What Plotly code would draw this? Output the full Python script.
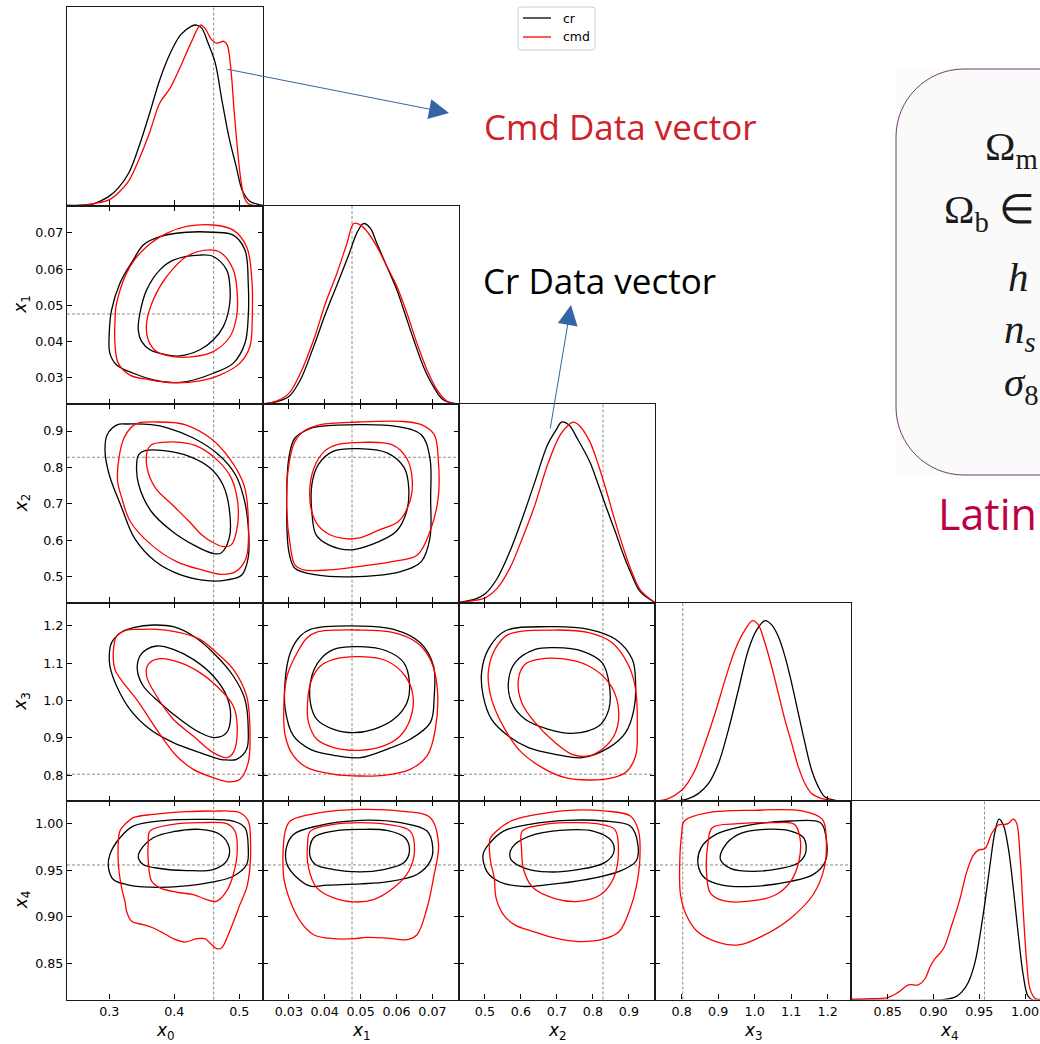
import plotly.graph_objects as go

W, H = 1040, 1044

# ---------------------------------------------------------------- parameters
TRUTHS = [0.4606, 0.0476, 0.828, 0.803, 0.9557]
TICK_VALUES = [
    [0.3, 0.4, 0.5],
    [0.03, 0.04, 0.05, 0.06, 0.07],
    [0.5, 0.6, 0.7, 0.8, 0.9],
    [0.8, 0.9, 1.0, 1.1, 1.2],
    [0.85, 0.90, 0.95, 1.00],
]
TICK_FORMATS = [".1f", ".2f", ".1f", ".1f", ".2f"]
X_RANGES = [(0.235, 0.5365), (0.0228, 0.0774), (0.428, 0.9725), (0.727, 1.2638), (0.8099, 1.0240)]
Y_RANGES = [None, (0.0227, 0.0776), (0.430, 0.974), (0.7313, 1.262), (0.8112, 1.0244)]
SERIES = ["cr", "cmd"]

# ---------------------------------------------------------------- 1D marginals (peak normalised to 1)
CR_1D_X0 = [0.235, 0.255, 0.277, 0.287, 0.300, 0.314, 0.330, 0.346, 0.362, 0.378, 0.394, 0.410,
            0.426, 0.434, 0.442, 0.452, 0.463, 0.473, 0.484, 0.495, 0.505, 0.516, 0.529, 0.5365]
CR_1D_P0 = [0, 0.002, 0.011, 0.026, 0.052, 0.098, 0.180, 0.330, 0.510, 0.700, 0.845, 0.947,
            0.993, 1.0, 0.984, 0.900, 0.790, 0.590, 0.380, 0.220, 0.080, 0.024, 0.006, 0.0]
CMD_1D_X0 = [0.235, 0.2553, 0.2766, 0.3005, 0.3165, 0.3298, 0.3457, 0.3617, 0.3777, 0.3936, 0.4096,
             0.4255, 0.4404, 0.4468, 0.4574, 0.4654, 0.4761, 0.4814, 0.4867, 0.4920, 0.4973, 0.5027,
             0.5080, 0.5133, 0.5213, 0.5365]
CMD_1D_P0 = [0, 0.0, 0.011, 0.033, 0.079, 0.135, 0.255, 0.40, 0.568, 0.65, 0.77, 0.90, 1.0, 0.984,
             0.919, 0.90, 0.91, 0.89, 0.77, 0.53, 0.31, 0.135, 0.042, 0.011, 0.0, 0.0]

CR_1D_X1 = [0.0228, 0.0267, 0.030, 0.0332, 0.0369, 0.0402, 0.0434, 0.0467, 0.049, 0.0508, 0.0527,
            0.0545, 0.0573, 0.0601, 0.062, 0.0648, 0.0675, 0.0703, 0.0731, 0.0774]
CR_1D_P1 = [0, 0.013, 0.041, 0.133, 0.318, 0.500, 0.660, 0.827, 0.950, 1.0, 0.974, 0.891, 0.762,
            0.632, 0.521, 0.355, 0.207, 0.096, 0.022, 0]
CMD_1D_X1 = [0.0228, 0.0267, 0.030, 0.0332, 0.0369, 0.0402, 0.0434, 0.0462, 0.0481, 0.0499, 0.0518,
             0.0545, 0.0573, 0.0601, 0.0629, 0.0657, 0.0685, 0.0713, 0.074, 0.0774]
CMD_1D_P1 = [0, 0.017, 0.059, 0.170, 0.355, 0.558, 0.725, 0.891, 1.0, 0.993, 0.956, 0.873, 0.762,
             0.651, 0.503, 0.336, 0.189, 0.078, 0.017, 0]

CR_1D_X2 = [0.428, 0.476, 0.5015, 0.534, 0.569, 0.604, 0.639, 0.674, 0.698, 0.713, 0.733, 0.756,
            0.791, 0.815, 0.838, 0.862, 0.885, 0.908, 0.932, 0.9725]
CR_1D_P2 = [0, 0.022, 0.05, 0.133, 0.281, 0.467, 0.67, 0.874, 0.957, 1.0, 0.985, 0.911, 0.781,
            0.652, 0.522, 0.393, 0.263, 0.152, 0.059, 0]
CMD_1D_X2 = [0.428, 0.476, 0.5015, 0.534, 0.569, 0.604, 0.639, 0.674, 0.7095, 0.733, 0.745, 0.762,
             0.791, 0.815, 0.838, 0.862, 0.885, 0.908, 0.932, 0.9725]
CMD_1D_P2 = [0, 0.013, 0.026, 0.078, 0.189, 0.356, 0.541, 0.763, 0.93, 0.985, 1.0, 0.981, 0.893,
             0.763, 0.615, 0.448, 0.30, 0.17, 0.069, 0]

CR_1D_X3 = [0.727, 0.8, 0.8183, 0.8457, 0.8731, 0.9005, 0.9279, 0.9553, 0.9826, 1.0055, 1.0283,
            1.0466, 1.0648, 1.0831, 1.1014, 1.1196, 1.1379, 1.1562, 1.1744, 1.1927, 1.2201, 1.2638]
CR_1D_P3 = [0, 0.004, 0.013, 0.041, 0.096, 0.207, 0.393, 0.615, 0.837, 0.948, 1.0, 0.976, 0.911,
            0.8, 0.652, 0.485, 0.319, 0.17, 0.078, 0.022, 0.004, 0]
CMD_1D_X3 = [0.727, 0.7635, 0.8, 0.8183, 0.8365, 0.8639, 0.8913, 0.9187, 0.9461, 0.9735, 0.9945,
             1.01, 1.0283, 1.0466, 1.0648, 1.0831, 1.1014, 1.1196, 1.1379, 1.1562, 1.1836, 1.211,
             1.2638]
CMD_1D_P3 = [0, 0.013, 0.059, 0.106, 0.17, 0.319, 0.485, 0.67, 0.837, 0.948, 1.0, 0.976, 0.874,
             0.744, 0.596, 0.448, 0.319, 0.189, 0.096, 0.041, 0.013, 0.004, 0]

CR_1D_X4 = [0.8099, 0.9126, 0.9235, 0.9308, 0.9381, 0.9454, 0.9508, 0.9563, 0.9617, 0.9672, 0.9716,
            0.9763, 0.9818, 0.9872, 0.9927, 0.9981, 1.0029, 1.0072, 1.024]
CR_1D_P4 = [0, 0, 0.013, 0.041, 0.096, 0.207, 0.356, 0.541, 0.744, 0.93, 1.0, 0.967, 0.837, 0.615,
            0.356, 0.133, 0.022, 0, 0]
CMD_1D_X4 = [0.8099, 0.8252, 0.85, 0.8617, 0.8726, 0.8835, 0.8908, 0.8962, 0.9017, 0.9108, 0.9199,
             0.929, 0.9363, 0.9436, 0.949, 0.9563, 0.9636, 0.9708, 0.9781, 0.9818, 0.9872, 0.9909,
             0.9945, 0.9981, 1.0018, 1.0054, 1.0109, 1.0163, 1.024]
CMD_1D_P4 = [0, 0.004, 0.011, 0.041, 0.081, 0.081, 0.115, 0.18, 0.226, 0.281, 0.411, 0.559, 0.707,
             0.8, 0.828, 0.837, 0.92, 0.967, 0.97, 0.976, 1.0, 0.976, 0.8, 0.485, 0.207, 0.059,
             0.007, 0, 0]

# ---------------------------------------------------------------- 2D credible contours (x param, y param)
CR_01_OUT = [(0.3779, 0.0690), (0.4190, 0.0702), (0.4600, 0.0702), (0.4908, 0.0694), (0.5087, 0.0653),
             (0.5138, 0.0561), (0.5138, 0.0469), (0.5087, 0.0395), (0.4908, 0.0340), (0.4600, 0.0312),
             (0.4190, 0.0289), (0.3985, 0.0286), (0.3677, 0.0294), (0.3369, 0.0312), (0.3113, 0.0335),
             (0.3010, 0.0367), (0.3000, 0.0423), (0.3036, 0.0487), (0.3164, 0.0561), (0.3369, 0.0625),
             (0.3523, 0.0667)]
CMD_01_OUT = [(0.3882, 0.0699), (0.4190, 0.0718), (0.4600, 0.0722), (0.4908, 0.0708), (0.5113, 0.0662),
              (0.5190, 0.0579), (0.5200, 0.0469), (0.5164, 0.0386), (0.5010, 0.0340), (0.4703, 0.0307),
              (0.4395, 0.0291), (0.3985, 0.0286), (0.3626, 0.0294), (0.3318, 0.0307), (0.3138, 0.0340),
              (0.3087, 0.0395), (0.3087, 0.0450), (0.3113, 0.0506), (0.3318, 0.0607), (0.3574, 0.0662)]
CR_01_IN = [(0.3985, 0.0625), (0.4395, 0.0639), (0.4600, 0.0635), (0.4805, 0.0598), (0.4856, 0.0552),
            (0.4846, 0.0496), (0.4754, 0.0441), (0.4600, 0.0404), (0.4395, 0.0377), (0.4087, 0.0360),
            (0.3882, 0.0363), (0.3626, 0.0377), (0.3497, 0.0400), (0.3446, 0.0432), (0.3472, 0.0478),
            (0.3574, 0.0542), (0.3779, 0.0598)]
CMD_01_IN = [(0.4190, 0.0635), (0.4549, 0.0653), (0.4728, 0.0644), (0.4908, 0.0598), (0.4969, 0.0533),
             (0.4959, 0.0469), (0.4856, 0.0413), (0.4600, 0.0372), (0.4292, 0.0358), (0.3985, 0.0358),
             (0.3728, 0.0372), (0.3600, 0.0404), (0.3574, 0.0450), (0.3677, 0.0515), (0.3882, 0.0579)]

CR_02_OUT = [(0.3259, 0.9192), (0.3647, 0.9174), (0.3906, 0.9082), (0.4294, 0.8808), (0.4683, 0.8350),
             (0.4942, 0.7801), (0.5071, 0.7160), (0.5136, 0.6428), (0.5136, 0.5513), (0.5039, 0.5055),
             (0.4812, 0.4918), (0.4553, 0.4890), (0.4100, 0.5055), (0.3712, 0.5421), (0.3388, 0.6062),
             (0.3194, 0.6886), (0.3000, 0.7801), (0.2935, 0.8442), (0.2968, 0.8899), (0.3129, 0.9174)]
CMD_02_OUT = [(0.3453, 0.9220), (0.4036, 0.9220), (0.4165, 0.9174), (0.4553, 0.8808), (0.4845, 0.8259),
              (0.5071, 0.7526), (0.5136, 0.6703), (0.5104, 0.5513), (0.4942, 0.5146), (0.4715, 0.5073),
              (0.4424, 0.5192), (0.4036, 0.5421), (0.3647, 0.5879), (0.3324, 0.6520), (0.3194, 0.7160),
              (0.3129, 0.7618), (0.3149, 0.8259), (0.3227, 0.8808), (0.3356, 0.9128)]
CR_02_IN = [(0.3550, 0.8460), (0.3841, 0.8460), (0.4230, 0.8304), (0.4553, 0.7984), (0.4748, 0.7526),
            (0.4845, 0.6886), (0.4845, 0.6062), (0.4715, 0.5650), (0.4586, 0.5650), (0.4294, 0.5879),
            (0.3971, 0.6245), (0.3647, 0.6794), (0.3453, 0.7526), (0.3421, 0.8076), (0.3453, 0.8350)]
CMD_02_IN = [(0.3809, 0.8689), (0.4100, 0.8689), (0.4359, 0.8579), (0.4683, 0.8167), (0.4877, 0.7709),
             (0.4974, 0.7069), (0.4974, 0.6428), (0.4877, 0.5879), (0.4748, 0.5833), (0.4618, 0.5924),
             (0.4424, 0.6153), (0.4230, 0.6520), (0.3971, 0.6977), (0.3712, 0.7435), (0.3583, 0.7984),
             (0.3583, 0.8442), (0.3647, 0.8625)]

CR_12_OUT = [(0.0388, 0.9128), (0.0493, 0.9174), (0.0599, 0.9128), (0.0669, 0.8899), (0.0693, 0.8259),
             (0.0695, 0.7160), (0.0693, 0.6062), (0.0669, 0.5421), (0.0611, 0.5146), (0.0493, 0.5009),
             (0.0376, 0.5055), (0.0317, 0.5238), (0.0300, 0.5696), (0.0294, 0.7160), (0.0300, 0.8259),
             (0.0317, 0.8808), (0.0364, 0.9082)]
CMD_12_OUT = [(0.0388, 0.9174), (0.0493, 0.9247), (0.0611, 0.9265), (0.0669, 0.9174), (0.0705, 0.8899),
              (0.0716, 0.8259), (0.0716, 0.7160), (0.0693, 0.6245), (0.0658, 0.5604), (0.0587, 0.5421),
              (0.0493, 0.5284), (0.0411, 0.5192), (0.0341, 0.5192), (0.0317, 0.5330), (0.0305, 0.5787),
              (0.0294, 0.6886), (0.0300, 0.8076), (0.0317, 0.8716), (0.0341, 0.8991)]
CR_12_IN = [(0.0423, 0.8442), (0.0493, 0.8515), (0.0575, 0.8396), (0.0622, 0.7984), (0.0634, 0.7435),
            (0.0628, 0.6794), (0.0599, 0.6245), (0.0528, 0.5879), (0.0470, 0.5742), (0.0411, 0.5879),
            (0.0376, 0.6153), (0.0364, 0.6794), (0.0364, 0.7526), (0.0382, 0.8076)]
CMD_12_IN = [(0.0435, 0.8625), (0.0505, 0.8689), (0.0587, 0.8625), (0.0628, 0.8259), (0.0644, 0.7618),
             (0.0634, 0.6977), (0.0605, 0.6520), (0.0552, 0.6291), (0.0493, 0.6062), (0.0446, 0.6062),
             (0.0399, 0.6245), (0.0370, 0.6611), (0.0358, 0.7252), (0.0370, 0.7984), (0.0399, 0.8442)]

CR_03_OUT = [(0.3677, 1.2018), (0.3985, 1.1973), (0.4292, 1.1724), (0.4600, 1.1278), (0.4908, 1.0655),
             (0.5087, 1.0031), (0.5138, 0.9229), (0.5113, 0.8695), (0.4959, 0.8428), (0.4805, 0.8410),
             (0.4703, 0.8428), (0.4395, 0.8606), (0.3985, 0.8873), (0.3626, 0.9229), (0.3318, 0.9764),
             (0.3113, 1.0388), (0.3010, 1.0922), (0.3000, 1.1189), (0.3036, 1.1546), (0.3215, 1.1857),
             (0.3369, 1.1947)]
CMD_03_OUT = [(0.3472, 1.1902), (0.3728, 1.1902), (0.4087, 1.1813), (0.4395, 1.1635), (0.4651, 1.1278),
              (0.4908, 1.0833), (0.5113, 1.0120), (0.5164, 0.9229), (0.5138, 0.8339), (0.5010, 0.7893),
              (0.4856, 0.7822), (0.4600, 0.7938), (0.4292, 0.8160), (0.4036, 0.8517), (0.3728, 0.9229),
              (0.3421, 1.0031), (0.3215, 1.0477), (0.3087, 1.0833), (0.3062, 1.1278), (0.3113, 1.1724),
              (0.3267, 1.1884)]
CR_03_IN = [(0.3728, 1.1457), (0.3985, 1.1367), (0.4292, 1.1100), (0.4600, 1.0655), (0.4805, 1.0120),
            (0.4867, 0.9586), (0.4805, 0.9140), (0.4626, 0.9007), (0.4395, 0.9140), (0.4087, 0.9497),
            (0.3779, 0.9942), (0.3523, 1.0388), (0.3431, 1.0833), (0.3472, 1.1189), (0.3574, 1.1367)]
CMD_03_IN = [(0.3779, 1.1118), (0.4087, 1.1011), (0.4395, 1.0744), (0.4651, 1.0388), (0.4908, 0.9853),
             (0.4969, 0.9229), (0.4908, 0.8606), (0.4805, 0.8472), (0.4600, 0.8606), (0.4292, 0.9051),
             (0.3985, 0.9497), (0.3728, 1.0120), (0.3574, 1.0655), (0.3600, 1.0967)]

CR_13_OUT = [(0.0360, 1.1902), (0.0499, 1.1991), (0.0592, 1.1902), (0.0666, 1.1546), (0.0703, 1.0922),
             (0.0705, 1.0120), (0.0694, 0.9408), (0.0638, 0.8962), (0.0573, 0.8695), (0.0499, 0.8472),
             (0.0425, 0.8535), (0.0360, 0.8695), (0.0313, 0.9051), (0.0290, 0.9764), (0.0290, 1.0566),
             (0.0304, 1.1278), (0.0332, 1.1724)]
CMD_13_OUT = [(0.0378, 1.1831), (0.0499, 1.1884), (0.0592, 1.1813), (0.0657, 1.1546), (0.0694, 1.1100),
              (0.0713, 1.0388), (0.0708, 0.9229), (0.0685, 0.8517), (0.0638, 0.8160), (0.0564, 0.8000),
              (0.0499, 0.7982), (0.0425, 0.8027), (0.0351, 0.8205), (0.0313, 0.8517), (0.0290, 0.9051),
              (0.0286, 0.9853), (0.0295, 1.0655), (0.0323, 1.1278), (0.0351, 1.1679)]
CR_13_IN = [(0.0425, 1.1367), (0.0499, 1.1439), (0.0573, 1.1323), (0.0620, 1.1011), (0.0636, 1.0477),
            (0.0629, 0.9942), (0.0592, 0.9497), (0.0536, 0.9229), (0.0480, 0.9140), (0.0425, 0.9229),
            (0.0378, 0.9497), (0.0360, 0.9942), (0.0364, 1.0655), (0.0388, 1.1100)]
CMD_13_IN = [(0.0425, 1.1100), (0.0499, 1.1171), (0.0573, 1.1056), (0.0624, 1.0655), (0.0646, 1.0120),
             (0.0638, 0.9497), (0.0610, 0.9051), (0.0564, 0.8784), (0.0499, 0.8668), (0.0425, 0.8740),
             (0.0378, 0.8962), (0.0355, 0.9408), (0.0352, 0.9942), (0.0364, 1.0566), (0.0388, 1.0922)]

CR_23_OUT = [(0.5558, 1.1857), (0.6767, 1.1973), (0.7884, 1.1902), (0.8628, 1.1635), (0.9093, 1.1100),
             (0.9186, 1.0477), (0.9140, 0.9764), (0.8907, 0.9140), (0.8442, 0.8739), (0.7698, 0.8472),
             (0.6953, 0.8561), (0.6209, 0.8739), (0.5651, 0.9051), (0.5186, 0.9497), (0.4953, 1.0120),
             (0.4907, 1.0744), (0.5093, 1.1367)]
CMD_23_OUT = [(0.5651, 1.1768), (0.6953, 1.1884), (0.7884, 1.1813), (0.8535, 1.1546), (0.9000, 1.0922),
              (0.9186, 1.0298), (0.9233, 0.9229), (0.9186, 0.8517), (0.8907, 0.8072), (0.8442, 0.7911),
              (0.7884, 0.7875), (0.7233, 0.7938), (0.6674, 0.8160), (0.6023, 0.8606), (0.5558, 0.9229),
              (0.5186, 1.0031), (0.5093, 1.0744), (0.5279, 1.1367)]
CR_23_IN = [(0.6395, 1.1367), (0.6953, 1.1412), (0.7698, 1.1323), (0.8256, 1.1011), (0.8460, 1.0388),
            (0.8442, 0.9764), (0.8163, 0.9318), (0.7419, 0.9122), (0.6767, 0.9229), (0.6116, 0.9497),
            (0.5744, 0.9942), (0.5651, 1.0477), (0.5837, 1.1011)]
CMD_23_IN = [(0.6488, 1.1100), (0.7140, 1.1118), (0.7884, 1.0922), (0.8442, 1.0477), (0.8702, 0.9853),
             (0.8628, 0.9140), (0.8256, 0.8695), (0.7884, 0.8517), (0.7419, 0.8561), (0.6953, 0.8873),
             (0.6395, 0.9408), (0.6023, 0.9942), (0.5930, 1.0566), (0.6116, 1.0967)]

CR_04_OUT = [(0.3369, 0.9975), (0.3882, 1.0036), (0.4395, 1.0047), (0.4908, 1.0029), (0.5087, 0.9957),
             (0.5138, 0.9742), (0.5113, 0.9562), (0.4908, 0.9436), (0.4600, 0.9375), (0.4138, 0.9329),
             (0.3626, 0.9318), (0.3267, 0.9347), (0.3062, 0.9401), (0.2985, 0.9544), (0.3010, 0.9670),
             (0.3164, 0.9849)]
CMD_04_OUT = [(0.3677, 1.0100), (0.4190, 1.0129), (0.4600, 1.0136), (0.5010, 1.0118), (0.5138, 1.0029),
              (0.5174, 0.9777), (0.5164, 0.9526), (0.5113, 0.9311), (0.5010, 0.9131), (0.4933, 0.8988),
              (0.4831, 0.8808), (0.4728, 0.8665), (0.4651, 0.8658), (0.4549, 0.8719), (0.4472, 0.8765),
              (0.4344, 0.8765), (0.4164, 0.8729), (0.3985, 0.8765), (0.3831, 0.8826), (0.3677, 0.8880),
              (0.3523, 0.8916), (0.3344, 0.8952), (0.3267, 0.9060), (0.3241, 0.9167), (0.3190, 0.9311),
              (0.3138, 0.9598), (0.3164, 0.9921), (0.3241, 0.9993), (0.3369, 1.0065)]
CR_04_IN = [(0.3677, 0.9849), (0.3985, 0.9914), (0.4395, 0.9939), (0.4703, 0.9885), (0.4846, 0.9742),
            (0.4805, 0.9598), (0.4600, 0.9508), (0.4190, 0.9497), (0.3779, 0.9519), (0.3523, 0.9562),
            (0.3446, 0.9641), (0.3472, 0.9706)]
CMD_04_IN = [(0.3626, 0.9921), (0.3985, 0.9993), (0.4395, 1.0011), (0.4805, 1.0000), (0.4933, 0.9921),
             (0.4969, 0.9706), (0.4908, 0.9454), (0.4805, 0.9275), (0.4651, 0.9167), (0.4497, 0.9185),
             (0.4292, 0.9239), (0.4036, 0.9264), (0.3779, 0.9311), (0.3651, 0.9383), (0.3600, 0.9598),
             (0.3600, 0.9813)]

CR_14_OUT = [(0.0378, 0.9975), (0.0499, 1.0036), (0.0611, 1.0011), (0.0685, 0.9921), (0.0701, 0.9742),
             (0.0694, 0.9598), (0.0657, 0.9454), (0.0573, 0.9375), (0.0499, 0.9354), (0.0406, 0.9340),
             (0.0360, 0.9329), (0.0323, 0.9419), (0.0295, 0.9562), (0.0293, 0.9742), (0.0313, 0.9885)]
CMD_14_OUT = [(0.0388, 1.0118), (0.0499, 1.0154), (0.0611, 1.0136), (0.0694, 1.0065), (0.0717, 0.9777),
              (0.0703, 0.9419), (0.0685, 0.9095), (0.0657, 0.8808), (0.0629, 0.8755), (0.0573, 0.8772),
              (0.0518, 0.8780), (0.0481, 0.8765), (0.0425, 0.8765), (0.0369, 0.8808), (0.0332, 0.8952),
              (0.0304, 0.9167), (0.0286, 0.9419), (0.0284, 0.9706), (0.0290, 0.9921), (0.0304, 1.0029)]
CR_14_IN = [(0.0425, 0.9921), (0.0499, 0.9939), (0.0573, 0.9928), (0.0624, 0.9849), (0.0636, 0.9706),
            (0.0620, 0.9580), (0.0564, 0.9508), (0.0499, 0.9483), (0.0425, 0.9508), (0.0374, 0.9562),
            (0.0358, 0.9670), (0.0369, 0.9849)]
CMD_14_IN = [(0.0425, 0.9993), (0.0499, 1.0011), (0.0573, 0.9993), (0.0638, 0.9921), (0.0650, 0.9706),
             (0.0634, 0.9490), (0.0592, 0.9311), (0.0536, 0.9185), (0.0481, 0.9160), (0.0425, 0.9203),
             (0.0378, 0.9311), (0.0355, 0.9526), (0.0352, 0.9777), (0.0360, 0.9921)]

CR_24_OUT = [(0.6244, 0.9993), (0.7280, 1.0036), (0.8316, 1.0029), (0.9041, 0.9975), (0.9249, 0.9777),
             (0.9197, 0.9597), (0.8731, 0.9489), (0.7798, 0.9399), (0.6762, 0.9345), (0.6036, 0.9327),
             (0.5415, 0.9374), (0.5052, 0.9489), (0.4948, 0.9669), (0.5104, 0.9777), (0.5518, 0.9921)]
CMD_24_OUT = [(0.5725, 1.0029), (0.6762, 1.0119), (0.7487, 1.0147), (0.8316, 1.0137), (0.9041, 1.0083),
              (0.9269, 0.9921), (0.9301, 0.9597), (0.9197, 0.9309), (0.9041, 0.9094), (0.8731, 0.8842),
              (0.8316, 0.8763), (0.7591, 0.8734), (0.6969, 0.8770), (0.6347, 0.8842), (0.5829, 0.8914),
              (0.5518, 0.9022), (0.5311, 0.9201), (0.5259, 0.9417), (0.5155, 0.9597), (0.5124, 0.9777),
              (0.5155, 0.9849)]
CR_24_IN = [(0.6244, 0.9867), (0.7073, 0.9928), (0.8005, 0.9921), (0.8523, 0.9813), (0.8575, 0.9687),
            (0.8316, 0.9579), (0.7591, 0.9507), (0.6762, 0.9482), (0.6140, 0.9518), (0.5725, 0.9615),
            (0.5705, 0.9705), (0.5829, 0.9777)]
CMD_24_IN = [(0.6554, 0.9986), (0.7280, 1.0011), (0.8109, 1.0000), (0.8606, 0.9939), (0.8710, 0.9705),
             (0.8575, 0.9417), (0.8212, 0.9237), (0.7591, 0.9165), (0.6969, 0.9194), (0.6347, 0.9309),
             (0.6088, 0.9489), (0.6016, 0.9741), (0.6036, 0.9921)]

CR_34_OUT = [(0.8941, 0.9885), (0.9963, 0.9993), (1.0986, 1.0029), (1.1804, 1.0011), (1.1957, 0.9849),
             (1.1937, 0.9597), (1.1599, 0.9453), (1.0986, 0.9381), (0.9963, 0.9327), (0.9145, 0.9338),
             (0.8634, 0.9417), (0.8450, 0.9561), (0.8532, 0.9741)]
CMD_34_OUT = [(0.8736, 1.0119), (0.9963, 1.0144), (1.1292, 1.0137), (1.1855, 1.0047), (1.1957, 0.9849),
              (1.1906, 0.9525), (1.1599, 0.9237), (1.0986, 0.8986), (1.0270, 0.8806), (0.9554, 0.8698),
              (0.8941, 0.8734), (0.8429, 0.8842), (0.8123, 0.9022), (0.7969, 0.9237), (0.7949, 0.9597),
              (0.8000, 0.9885), (0.8072, 1.0029)]
CR_34_IN = [(0.9554, 0.9885), (1.0270, 0.9939), (1.0986, 0.9921), (1.1344, 0.9849), (1.1395, 0.9687),
            (1.1190, 0.9579), (1.0679, 0.9518), (0.9963, 0.9489), (0.9350, 0.9518), (0.9063, 0.9615),
            (0.9145, 0.9741)]
CMD_34_IN = [(0.9554, 1.0000), (1.0474, 1.0011), (1.1088, 0.9993), (1.1241, 0.9849), (1.1211, 0.9597),
             (1.0986, 0.9381), (1.0577, 0.9237), (0.9963, 0.9173), (0.9145, 0.9173), (0.8787, 0.9255),
             (0.8685, 0.9453), (0.8716, 0.9777), (0.8838, 0.9957)]

# ---------------------------------------------------------------- assemble the data tables
MARGINALS = {
    "cr": [(CR_1D_X0, CR_1D_P0), (CR_1D_X1, CR_1D_P1), (CR_1D_X2, CR_1D_P2),
           (CR_1D_X3, CR_1D_P3), (CR_1D_X4, CR_1D_P4)],
    "cmd": [(CMD_1D_X0, CMD_1D_P0), (CMD_1D_X1, CMD_1D_P1), (CMD_1D_X2, CMD_1D_P2),
            (CMD_1D_X3, CMD_1D_P3), (CMD_1D_X4, CMD_1D_P4)],
}
CONTOURS = {
    (0, 1): {"cr": [CR_01_OUT, CR_01_IN], "cmd": [CMD_01_OUT, CMD_01_IN]},
    (0, 2): {"cr": [CR_02_OUT, CR_02_IN], "cmd": [CMD_02_OUT, CMD_02_IN]},
    (1, 2): {"cr": [CR_12_OUT, CR_12_IN], "cmd": [CMD_12_OUT, CMD_12_IN]},
    (0, 3): {"cr": [CR_03_OUT, CR_03_IN], "cmd": [CMD_03_OUT, CMD_03_IN]},
    (1, 3): {"cr": [CR_13_OUT, CR_13_IN], "cmd": [CMD_13_OUT, CMD_13_IN]},
    (2, 3): {"cr": [CR_23_OUT, CR_23_IN], "cmd": [CMD_23_OUT, CMD_23_IN]},
    (0, 4): {"cr": [CR_04_OUT, CR_04_IN], "cmd": [CMD_04_OUT, CMD_04_IN]},
    (1, 4): {"cr": [CR_14_OUT, CR_14_IN], "cmd": [CMD_14_OUT, CMD_14_IN]},
    (2, 4): {"cr": [CR_24_OUT, CR_24_IN], "cmd": [CMD_24_OUT, CMD_24_IN]},
    (3, 4): {"cr": [CR_34_OUT, CR_34_IN], "cmd": [CMD_34_OUT, CMD_34_IN]},
}

# ---------------------------------------------------------------- styling
COLORS = {"cr": "black", "cmd": "#ff0000"}
LINE_W = 1.3
SPINE = dict(showline=True, linecolor="#1a1a1a", linewidth=1.1)
TICK_FONT = dict(family="DejaVu Sans", size=12.7, color="black")
TRUTH_LINE = dict(color="#8c8c8c", width=1, dash="3px,2px")
ARROW_COLOR = "#3465a4"

COL_EDGES = [67, 263, 459, 655, 851, 1047]
ROW_EDGES = [7, 205.5, 404, 602.5, 801, 999.5]

fig = go.Figure()
layout = {}
shapes = []


def ax_names(k):
    return ("x" if k == 1 else f"x{k}", "y" if k == 1 else f"y{k}",
            "xaxis" if k == 1 else f"xaxis{k}", "yaxis" if k == 1 else f"yaxis{k}")


k = 0
for i in range(5):
    for j in range(i + 1):
        k += 1
        xr, yr, xkey, ykey = ax_names(k)
        left, right = COL_EDGES[j], COL_EDGES[j + 1]
        lo, hi = X_RANGES[j]
        if right > W:  # last column runs past the page edge
            hi = lo + (hi - lo) * (W - left) / (right - left)
            right = W
        xdom = [left / W, right / W]
        ydom = [1 - ROW_EDGES[i + 1] / H, 1 - ROW_EDGES[i] / H]

        xaxis = dict(domain=xdom, range=[lo, hi], anchor=yr, showgrid=False, zeroline=False,
                     tickvals=TICK_VALUES[j], tickformat=TICK_FORMATS[j], tickfont=TICK_FONT,
                     ticks="inside", ticklen=5, tickwidth=1, tickcolor="black",
                     showticklabels=(i == 4), **SPINE)
        if i == j:
            xaxis["mirror"] = True
            yaxis = dict(domain=ydom, range=[0, 1.1], anchor=xr, showgrid=False, zeroline=False,
                         showticklabels=False, ticks="", mirror=(i != 4), **SPINE)
            for s in SERIES:
                xs, ps = MARGINALS[s][i]
                fig.add_trace(go.Scatter(
                    x=xs, y=ps, mode="lines", name=s, xaxis=xr, yaxis=yr,
                    line=dict(color=COLORS[s], width=LINE_W, shape="spline", smoothing=1.0),
                    showlegend=False, hoverinfo="skip"))
        else:
            xaxis["mirror"] = "allticks"
            yaxis = dict(domain=ydom, range=list(Y_RANGES[i]), anchor=xr, showgrid=False,
                         zeroline=False, tickvals=TICK_VALUES[i], tickformat=TICK_FORMATS[i],
                         tickfont=TICK_FONT, ticks="inside", ticklen=5, tickwidth=1,
                         tickcolor="black", mirror="allticks", showticklabels=(j == 0), **SPINE)
            for s in SERIES:
                for loop in CONTOURS[(j, i)][s]:
                    pts = loop + [loop[0]]
                    fig.add_trace(go.Scatter(
                        x=[p[0] for p in pts], y=[p[1] for p in pts], mode="lines",
                        xaxis=xr, yaxis=yr, showlegend=False, hoverinfo="skip",
                        line=dict(color=COLORS[s], width=LINE_W, shape="spline", smoothing=1.0)))
            shapes.append(dict(type="line", xref=f"{xr} domain", yref=yr, x0=0, x1=1,
                               y0=TRUTHS[i], y1=TRUTHS[i], line=TRUTH_LINE, layer="below"))
        shapes.append(dict(type="line", xref=xr, yref=f"{yr} domain", x0=TRUTHS[j], x1=TRUTHS[j],
                           y0=0, y1=1, line=TRUTH_LINE, layer="below"))
        layout[xkey] = xaxis
        layout[ykey] = yaxis

annotations = []

# legend box (cr / cmd)
LEG_L, LEG_T, LEG_R, LEG_B, LEG_RAD = 518, 7, 595, 50, 3
lx0, lx1 = LEG_L / W, LEG_R / W
ly0, ly1 = 1 - LEG_B / H, 1 - LEG_T / H
lrx, lry = LEG_RAD / W, LEG_RAD / H
shapes.append(dict(
    type="path", xref="paper", yref="paper", layer="above",
    path=(f"M {lx0 + lrx},{ly1} L {lx1 - lrx},{ly1} Q {lx1},{ly1} {lx1},{ly1 - lry} "
          f"L {lx1},{ly0 + lry} Q {lx1},{ly0} {lx1 - lrx},{ly0} L {lx0 + lrx},{ly0} "
          f"Q {lx0},{ly0} {lx0},{ly0 + lry} L {lx0},{ly1 - lry} Q {lx0},{ly1} {lx0 + lrx},{ly1} Z"),
    line=dict(color="#cccccc", width=1), fillcolor="rgba(255,255,255,0.8)"))
for row_y, s in zip([18, 37], SERIES):
    shapes.append(dict(type="line", xref="paper", yref="paper", layer="above",
                       x0=523 / W, x1=551 / W, y0=1 - row_y / H, y1=1 - row_y / H,
                       line=dict(color=COLORS[s], width=LINE_W)))
    annotations.append(dict(x=561 / W, y=1 - row_y / H, xref="paper", yref="paper", text=s,
                            showarrow=False, xanchor="left", yanchor="middle",
                            font=dict(family="DejaVu Sans", size=12.5, color="black")))

# axis titles
for j in range(5):
    cx = (COL_EDGES[j] + COL_EDGES[j + 1]) / 2
    annotations.append(dict(x=cx / W, y=1 - 1031 / H, xref="paper", yref="paper",
                            text=f"<i>x</i><sub>{j}</sub>", showarrow=False,
                            xanchor="center", yanchor="middle",
                            font=dict(family="DejaVu Sans", size=17, color="black")))
for i in range(1, 5):
    cy = (ROW_EDGES[i] + ROW_EDGES[i + 1]) / 2
    annotations.append(dict(x=22 / W, y=1 - cy / H, xref="paper", yref="paper",
                            text=f"<i>x</i><sub>{i}</sub>", showarrow=False, textangle=-90,
                            xanchor="center", yanchor="middle",
                            font=dict(family="DejaVu Sans", size=17, color="black")))

# call-out labels and arrows
annotations += [
    dict(x=449 / W, y=1 - 113 / H, xref="paper", yref="paper", ax=-223, ay=-44,
         text="", showarrow=True, arrowhead=2, arrowsize=4, arrowwidth=1, arrowcolor=ARROW_COLOR),
    dict(x=571 / W, y=1 - 305 / H, xref="paper", yref="paper", ax=-21, ay=125,
         text="", showarrow=True, arrowhead=2, arrowsize=4, arrowwidth=1, arrowcolor=ARROW_COLOR),
    dict(x=482 / W, y=1 - 126 / H, xref="paper", yref="paper", text="Cmd Data vector",
         showarrow=False, xanchor="left", yanchor="middle",
         font=dict(family="Open Sans", size=35, color="#cd2228")),
    dict(x=481 / W, y=1 - 280 / H, xref="paper", yref="paper", text="Cr Data vector",
         showarrow=False, xanchor="left", yanchor="middle",
         font=dict(family="Open Sans", size=35, color="black")),
    dict(x=936 / W, y=1 - 513 / H, xref="paper", yref="paper", text="Latin",
         showarrow=False, xanchor="left", yanchor="middle",
         font=dict(family="Open Sans", size=43, color="#be0046")),
]

# parameter-prior panel (rounded box running off the right edge)
MATH_FONT = "Liberation Serif"
math_lines = [
    (983, 149, "Ω<sub>m</sub>"),
    (942, 212, "Ω<sub>b</sub> ∈"),
    (1006, 277, "<i>h</i>"),
    (1002, 332, "<i>n</i><sub><i>s</i></sub>"),
    (1002, 385, "<i>σ</i><sub>8</sub>"),
]
for xp, yp, txt in math_lines:
    annotations.append(dict(x=xp / W, y=1 - yp / H, xref="paper", yref="paper", text=txt,
                            showarrow=False, xanchor="left", yanchor="middle",
                            font=dict(family=MATH_FONT, size=41, color="#1a1a1a")))

L, T, B, R = 896 / W, 1 - 69 / H, 1 - 475 / H, 1100 / W
rx, ry, c = 68 / W, 68 / H, 0.5523
# faint backdrop behind the rounded panel
shapes.append(dict(type="rect", xref="paper", yref="paper", x0=L, x1=R, y0=B, y1=T,
                   line=dict(width=0), fillcolor="#fbfbfb", layer="below"))
box_path = (f"M {L + rx},{T} L {R},{T} L {R},{B} L {L + rx},{B} "
            f"C {L + rx - rx * c},{B} {L},{B + ry - ry * c} {L},{B + ry} "
            f"L {L},{T - ry} C {L},{T - ry + ry * c} {L + rx - rx * c},{T} {L + rx},{T} Z")
shapes.append(dict(type="path", xref="paper", yref="paper", path=box_path,
                   line=dict(color="#6a3d6e", width=1), fillcolor="#fafafa", layer="below"))

fig.update_layout(
    width=W, height=H, margin=dict(l=0, r=0, t=0, b=0),
    paper_bgcolor="white", plot_bgcolor="white",
    showlegend=False,
    shapes=shapes, annotations=annotations,
    **layout,
)

fig.write_html("out.html")
